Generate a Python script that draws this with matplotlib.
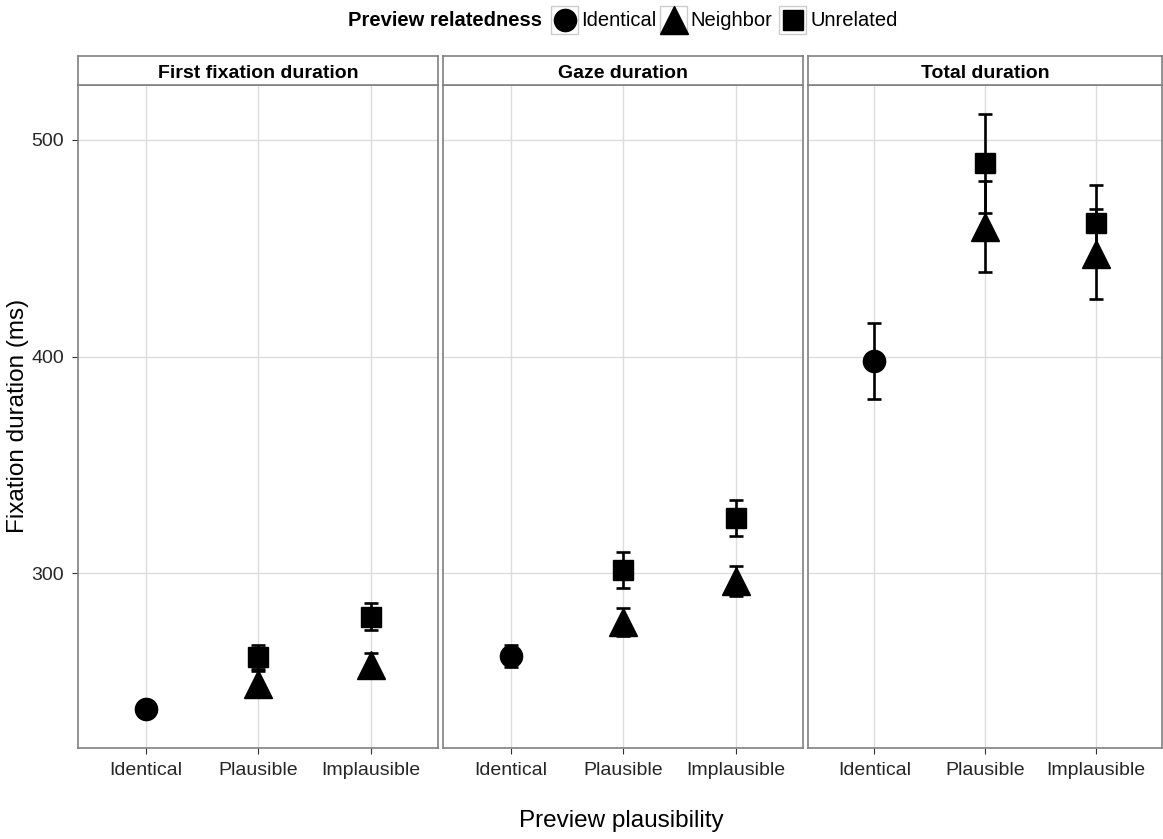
import numpy as np
import matplotlib.pyplot as plt
from matplotlib.patches import Rectangle
from matplotlib.lines import Line2D

plt.rcParams['font.family'] = ['Liberation Sans', 'DejaVu Sans']

measures = ["First fixation duration", "Gaze duration", "Total duration"]
plausibility = ["Identical", "Plausible", "Implausible"]
relatedness = ["Identical", "Neighbor", "Unrelated"]

# (condition index, relatedness, mean, error) per measure
first_cond = [0, 1, 1, 2, 2]
first_rel = ["Identical", "Neighbor", "Unrelated", "Neighbor", "Unrelated"]
first_mean = [237.2, 248.6, 261.1, 257.5, 279.8]
first_err = [3.0, 6.0, 5.6, 5.5, 6.2]

gaze_cond = [0, 1, 1, 2, 2]
gaze_rel = ["Identical", "Neighbor", "Unrelated", "Neighbor", "Unrelated"]
gaze_mean = [261.7, 277.5, 301.4, 296.4, 325.3]
gaze_err = [5.0, 6.5, 8.4, 7.0, 8.3]

total_cond = [0, 1, 1, 2, 2]
total_rel = ["Identical", "Neighbor", "Unrelated", "Neighbor", "Unrelated"]
total_mean = [397.9, 460.0, 489.2, 447.2, 461.5]
total_err = [17.6, 21.0, 23.0, 20.8, 17.7]

panels = [
    (first_cond, first_rel, first_mean, first_err),
    (gaze_cond, gaze_rel, gaze_mean, gaze_err),
    (total_cond, total_rel, total_mean, total_err),
]

markers = {"Identical": "o", "Neighbor": "^", "Unrelated": "s"}
msizes = {"Identical": 16, "Neighbor": 20, "Unrelated": 15}

W, H = 1163, 839
fig = plt.figure(figsize=(W / 100, H / 100), dpi=100)

def box(x0, y0, x1, y1):
    return [x0 / W, 1 - y1 / H, (x1 - x0) / W, (y1 - y0) / H]

lefts = [78, 443, 808]
rights = [438, 803, 1162]
top, bottom, strip_top = 85, 748, 56
border = '#808080'
grid_c = '#dcdcdc'
txt_c = '#262626'

for i, (cond, rel, mean, err) in enumerate(panels):
    ax = fig.add_axes(box(lefts[i], top, rights[i], bottom))
    ax.set_xlim(0.4, 3.6)
    ax.set_ylim(219.2, 525.4)
    ax.set_xticks([1, 2, 3])
    ax.set_xticklabels(plausibility, fontsize=14, color=txt_c)
    ax.set_yticks([300, 400, 500])
    if i == 0:
        ax.set_yticklabels(['300', '400', '500'], fontsize=14, color=txt_c)
    else:
        ax.set_yticklabels([])
    ax.tick_params(axis='both', length=4, color='#333333', pad=6)
    if i > 0:
        ax.tick_params(axis='y', length=0)
    ax.grid(True, color=grid_c, linewidth=1)
    ax.set_axisbelow(True)
    for sp in ax.spines.values():
        sp.set_color(border)
        sp.set_linewidth(1.2)
    for c, r, m, e in zip(cond, rel, mean, err):
        ax.errorbar(c + 1, m, yerr=e, fmt='none', ecolor='black',
                    elinewidth=1.9, capsize=5.2, capthick=1.9, zorder=2)
        ax.plot(c + 1, m, marker=markers[r], markersize=msizes[r],
                color='black', linestyle='none', zorder=3)

    sax = fig.add_axes(box(lefts[i], strip_top, rights[i], top))
    sax.set_xticks([])
    sax.set_yticks([])
    for sp in sax.spines.values():
        sp.set_color(border)
        sp.set_linewidth(1.2)
    sax.text(0.5, 0.4, measures[i], ha='center', va='center',
             fontsize=14, fontweight='bold', transform=sax.transAxes)

fig.text(18 / W, 1 - 416 / H, 'Fixation duration (ms)', rotation=90,
         ha='center', va='center', fontsize=17.5)
fig.text(621 / W, 1 - 821 / H, 'Preview plausibility',
         ha='center', va='center', fontsize=17.5)

# legend at top
fig.text(542 / W, 1 - 20 / H, 'Preview relatedness', ha='right', va='center',
         fontsize=14.5, fontweight='bold')
key_x = [551, 660, 779]
text_x = [581, 690, 811]
for kx, tx, r in zip(key_x, text_x, relatedness):
    fig.add_artist(Rectangle((kx / W, 1 - 34 / H), 27 / W, 28 / H,
                             transform=fig.transFigure, facecolor='white',
                             edgecolor='#cccccc', linewidth=1))
    fig.add_artist(Line2D([(kx + 13.5) / W], [1 - 20 / H], marker=markers[r],
                          markersize=msizes[r], color='black',
                          transform=fig.transFigure))
    fig.text(tx / W, 1 - 20 / H, r, ha='left', va='center', fontsize=14.5)

fig.savefig('out.png', dpi=100)
